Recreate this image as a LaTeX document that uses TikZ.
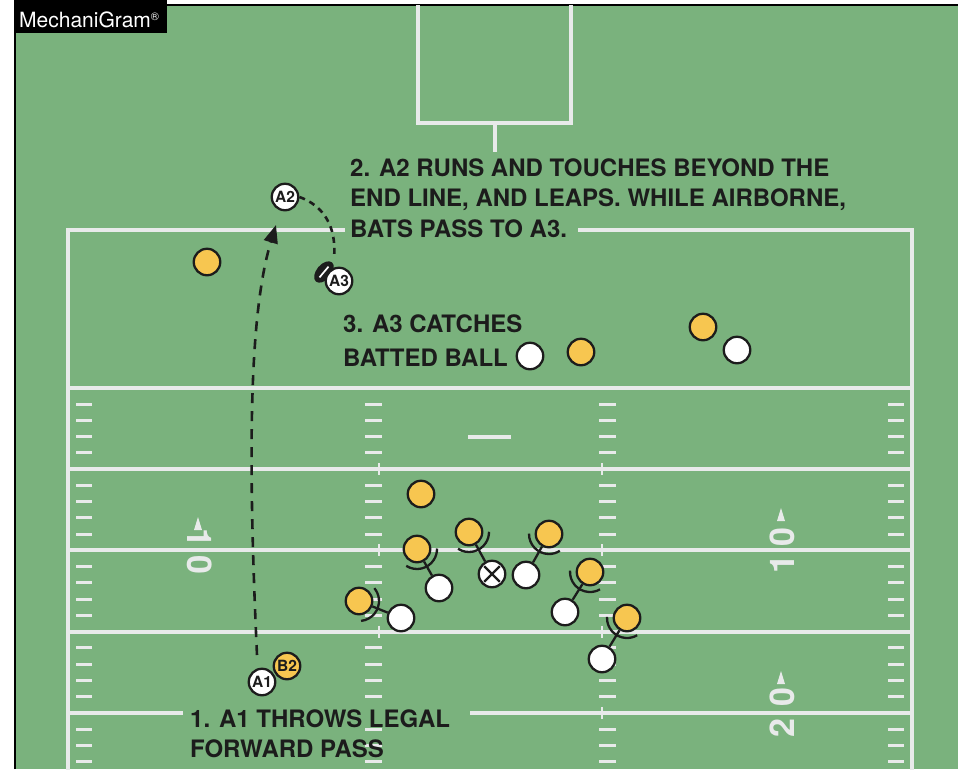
\documentclass[tikz,border=0pt]{standalone}
\usepackage{fontspec}
\setmainfont{TeX Gyre Heros}
\usetikzlibrary{calc,arrows.meta}
\definecolor{field}{RGB}{122,178,125}
\definecolor{fline}{RGB}{232,234,234}
\definecolor{pyellow}{RGB}{247,198,80}
\definecolor{ink}{RGB}{28,28,28}
\begin{document}
\begin{tikzpicture}[x=1pt,y=1pt,
 fl/.style={fline, line width=4pt},
 tickmark/.style={fline, line width=3pt},
 yel/.style={circle, draw=ink, line width=2.3pt, fill=pyellow, minimum size=26.5pt, inner sep=0pt, font=\bfseries\fontsize{15.5}{15.5}\selectfont, text=ink},
 wht/.style={circle, draw=ink, line width=2.3pt, fill=white, minimum size=26.5pt, inner sep=0pt, font=\bfseries\fontsize{15.5}{15.5}\selectfont, text=ink},
 note/.style={font=\bfseries\fontsize{24}{30}\selectfont, text=ink, anchor=base west, inner sep=0pt},
 link/.style={ink, line width=2.3pt},
 num/.style={text=fline, font=\bfseries\fontsize{34}{34}\selectfont, inner sep=0pt},
 route/.style={ink, line width=2.6pt},
]
\useasboundingbox (0,0) rectangle (958,-769);
\fill[white] (0,0) rectangle (958,-769);
\fill[field] (15,-5) rectangle (958,-769);
\draw[black, line width=1.5pt] (15,-769) -- (15,-5) -- (958,-5);

% goal post
\draw[fl] (418,-5) -- (418,-123) -- (571,-123) -- (571,-5);
\draw[fl] (494.5,-123) -- (494.5,-152);

% end line and sidelines
\draw[fl, line width=4.5pt] (345,-230) -- (68,-230) -- (68,-775);
\draw[fl, line width=4.5pt] (578,-230) -- (912,-230) -- (912,-775);

% yard lines
\foreach \yy in {388,469.2,550.4,631.6} \draw[fl] (68,-\yy) -- (912,-\yy);
\draw[fl] (68,-712.8) -- (183,-712.8);
\draw[fl] (470,-712.8) -- (912,-712.8);
\draw[fl] (468,-437) -- (511,-437);

% yard ticks
\foreach \b in {0,5,10,15,20} {
  \foreach \k in {1,2,3,4} {
    \pgfmathsetmacro\yy{388+16.24*(\b+\k)}
    \draw[tickmark] (76,-\yy) -- (92,-\yy);
    \draw[tickmark] (888,-\yy) -- (904,-\yy);
    \draw[tickmark] (365,-\yy) -- (382,-\yy);
    \draw[tickmark] (599,-\yy) -- (616,-\yy);
  }
}
\foreach \yy in {469.2,550.4,631.6} {
  \draw[fl, line width=2.5pt] (379,-\yy+6) -- (379,-\yy-6);
  \draw[fl, line width=2.5pt] (602,-\yy+6) -- (602,-\yy-6);
}
\draw[fl, line width=2.5pt] (602,-706.8) -- (602,-718.8);

% yard numbers
\node[num, rotate=-90] (n10a) at (200,-538) {1};
\node[num, rotate=-90] (n10b) at (200,-565) {0};
\fill[fline] (198,-517) -- (194,-530) -- (202,-530) -- cycle;
\node[num, rotate=90] (n10c) at (782,-537) {0};
\node[num, rotate=90] (n10d) at (782,-564) {1};
\fill[fline] (781,-508) -- (777,-521) -- (785,-521) -- cycle;
\node[num, rotate=90] (n20a) at (782,-697) {0};
\node[num, rotate=90] (n20b) at (782,-728) {2};
\fill[fline] (781,-671) -- (777,-684) -- (785,-684) -- cycle;

% players
\node[yel] (d1) at (207,-262) {};
\node[yel] (d2) at (703,-327) {};
\node[yel] (d3) at (581,-352) {};
\node[wht] (o1) at (530,-356) {};
\node[wht] (o2) at (737,-350) {};
\node[yel] (d4) at (421,-494) {};
\node[yel] (d5) at (417,-549) {};
\node[yel] (d6) at (469,-532) {};
\node[yel] (d7) at (549,-534) {};
\node[yel] (d8) at (590,-572) {};
\node[yel] (d9) at (359,-601) {};
\node[yel] (d10) at (627,-618) {};
\node[wht] (o3) at (439,-588) {};
\node[wht] (c) at (492,-574) {};
\draw[link] ($(c.center)+(45:11)$) -- ($(c.center)+(225:11)$);
\draw[link] ($(c.center)+(135:11)$) -- ($(c.center)+(315:11)$);
\node[wht] (o4) at (526,-575) {};
\node[wht] (o5) at (401,-618) {};
\node[wht] (o6) at (565,-612) {};
\node[wht] (o7) at (602,-659) {};

\foreach \d/\o in {d5/o3, d6/c, d7/o4, d8/o6, d9/o5, d10/o7} {
  \draw[link] (\d) -- (\o);
  \draw[link] let \p1=($(\o)-(\d)$), \n1={atan2(\y1,\x1)} in
    ($(\d.center)+(\n1-62:20)$) arc[start angle=\n1-62, end angle=\n1+62, radius=20];
}

% ball and A players
\begin{scope}[shift={(324,-272)}, rotate=50]
  \fill[ink] (0,0) ellipse (12.5 and 7.5);
  \draw[white, line width=1.7pt] (-7,0) -- (7,0);
\end{scope}
\node[wht] (a3) at (339,-281) {A3};
\node[wht] (a2) at (285,-197) {A2};
\node[yel] (b2) at (287,-666) {B2};
\node[wht] (a1) at (262,-682) {A1};

\coordinate (a1s) at (257,-655);
\coordinate (a2e) at (276,-225);
\coordinate (a3e) at (334,-258);
\draw[route, dash pattern=on 10pt off 8pt, -{Triangle[length=18pt,width=14pt]}]
  (a1s) .. controls (249,-480) and (247,-320) .. (a2e);
\draw[route, dash pattern=on 6pt off 5pt]
  (a2.east) .. controls (322,-205) and (337,-225) .. (a3e);

% notes
\node[note] (t1) at (350,-176) {2. A2 RUNS AND TOUCHES BEYOND THE};
\node[note] (t2) at (350,-206) {END LINE, AND LEAPS. WHILE AIRBORNE,};
\node[note] (t3) at (350,-237) {BATS PASS TO A3.};
\node[note] (t4) at (343,-332) {3. A3 CATCHES};
\node[note] (t5) at (343,-366) {BATTED BALL};
\node[note] (t6) at (190,-727) {1. A1 THROWS LEGAL};
\node[note] (t7) at (190,-757) {FORWARD PASS};

% logo
\fill[black] (14,0) rectangle (167,-33);
\node[anchor=base west, text=white, font=\fontsize{21}{21}\selectfont, inner sep=0pt] (logo) at (19,-27) {MechaniGram\raisebox{7pt}{\fontsize{11}{11}\selectfont ®}};
\end{tikzpicture}
\end{document}
